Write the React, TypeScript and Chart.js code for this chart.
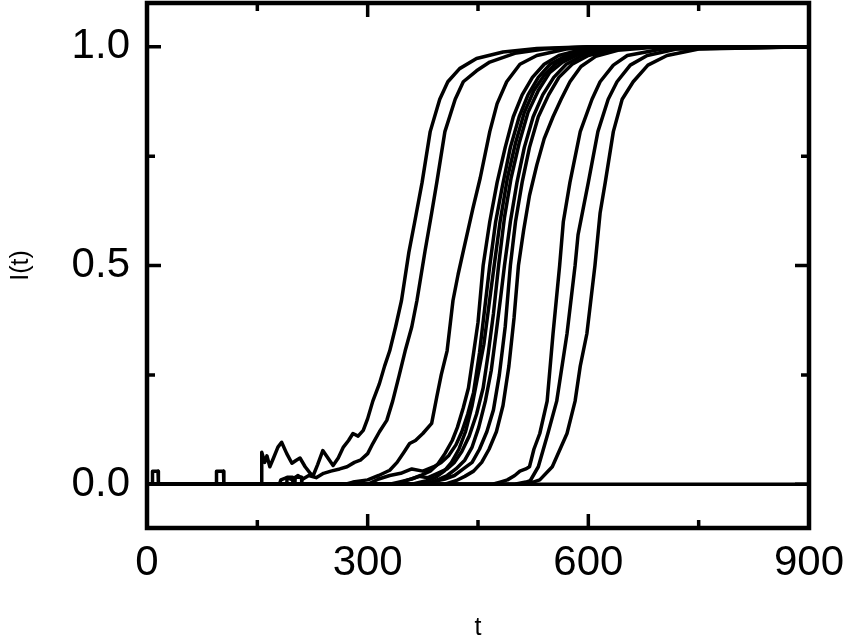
import { useEffect, useRef } from 'react';
import { Chart, registerables } from 'chart.js';

Chart.register(...registerables);

// ---- axis ticks ----
const xMajorTicks = [0, 300, 600, 900];
const xMinorTicks = [150, 450, 750];
const yMajorTicks = [0, 0.5, 1.0];
const yMinorTicks = [0.25, 0.75];

// ---- outbreaks that died out early (baseline with blips) ----
const tX = [0, 7, 7.5, 15, 15.5, 94, 94.5, 104, 104.5, 190, 190.5, 198, 198.5, 201, 201.5, 210, 210.5, 900];
const iX = [0, 0, 0.03, 0.03, 0, 0, 0.03, 0.03, 0, 0, 0.016, 0.016, 0, 0, 0.016, 0.016, 0, 0];

// ---- early curves ----
const tA = [0, 155, 156, 160, 163, 167, 172, 178, 183, 190, 197, 203, 208, 215, 222, 226, 232, 239, 246, 253, 260, 267, 274, 280, 287, 294, 300, 307, 316, 323, 330, 338, 346, 356, 364, 374, 385, 398, 409, 425, 448, 484, 530, 600, 900];
const iA = [0, 0, 0.073, 0.05, 0.065, 0.04, 0.06, 0.085, 0.096, 0.07, 0.048, 0.055, 0.06, 0.04, 0.025, 0.02, 0.045, 0.077, 0.06, 0.043, 0.06, 0.085, 0.1, 0.116, 0.11, 0.123, 0.15, 0.19, 0.23, 0.27, 0.305, 0.36, 0.42, 0.53, 0.6, 0.69, 0.806, 0.88, 0.92, 0.95, 0.973, 0.988, 0.996, 1, 1];

const tB = [0, 180, 182, 190, 198, 205, 212, 220, 230, 240, 250, 262, 272, 282, 290, 300, 307, 316, 326, 334, 343, 351, 360, 367, 378, 387, 394, 405, 419, 430, 448, 466, 500, 540, 600, 900];
const iB = [0, 0, 0.01, 0.015, 0.01, 0.02, 0.012, 0.02, 0.015, 0.025, 0.03, 0.035, 0.04, 0.05, 0.055, 0.07, 0.093, 0.12, 0.146, 0.19, 0.25, 0.305, 0.36, 0.42, 0.533, 0.62, 0.69, 0.806, 0.88, 0.92, 0.945, 0.965, 0.985, 0.995, 1, 1];

const tC = [0, 270, 280, 300, 315, 330, 340, 350, 357, 365, 375, 387, 394, 400, 408, 416, 423, 430, 443, 453, 466, 476, 489, 507, 530, 570, 620, 900];
const iC = [0, 0, 0.005, 0.01, 0.02, 0.032, 0.05, 0.075, 0.093, 0.1, 0.116, 0.139, 0.2, 0.25, 0.305, 0.42, 0.48, 0.533, 0.63, 0.7, 0.806, 0.87, 0.92, 0.96, 0.98, 0.995, 1, 1];

// ---- middle bundle ----
const tE1 = [0, 330, 345, 360, 372, 385, 395, 405, 415, 422, 430, 437, 444, 450, 457, 466, 476, 487, 498, 510, 524, 540, 560, 590, 640, 900];
const iE1 = [0, 0, 0.006, 0.012, 0.02, 0.03, 0.045, 0.07, 0.1, 0.13, 0.175, 0.22, 0.3, 0.37, 0.5, 0.6, 0.69, 0.77, 0.84, 0.89, 0.93, 0.96, 0.98, 0.993, 1, 1];

const tE2 = [0, 300, 315, 330, 345, 360, 375, 390, 400, 410, 420, 428, 436, 444, 452, 459, 466, 474, 483, 494, 506, 518, 532, 548, 570, 600, 650, 900];
const iE2 = [0, 0, 0.012, 0.02, 0.025, 0.035, 0.03, 0.04, 0.05, 0.065, 0.09, 0.12, 0.16, 0.21, 0.3, 0.4, 0.5, 0.6, 0.68, 0.77, 0.84, 0.89, 0.93, 0.96, 0.98, 0.993, 1, 1];

const tE3 = [0, 360, 380, 392, 404, 414, 424, 433, 442, 450, 458, 465, 472, 480, 490, 501, 513, 526, 540, 556, 578, 610, 660, 900];
const iE3 = [0, 0, 0.008, 0.015, 0.03, 0.05, 0.08, 0.12, 0.18, 0.25, 0.32, 0.41, 0.5, 0.6, 0.7, 0.78, 0.85, 0.9, 0.935, 0.962, 0.982, 0.994, 1, 1];

const tE4 = [0, 340, 355, 370, 382, 395, 408, 418, 428, 438, 448, 457, 464, 471, 478, 486, 495, 506, 518, 532, 547, 565, 588, 620, 670, 900];
const iE4 = [0, 0, 0.01, 0.018, 0.015, 0.025, 0.035, 0.05, 0.075, 0.11, 0.16, 0.22, 0.3, 0.39, 0.5, 0.61, 0.7, 0.78, 0.85, 0.9, 0.94, 0.965, 0.983, 0.995, 1, 1];

const tE5 = [0, 380, 395, 408, 420, 432, 442, 451, 460, 468, 475, 481, 486, 494, 503, 513, 525, 538, 553, 570, 592, 625, 680, 900];
const iE5 = [0, 0, 0.01, 0.02, 0.035, 0.055, 0.085, 0.13, 0.19, 0.26, 0.35, 0.43, 0.5, 0.6, 0.69, 0.77, 0.84, 0.89, 0.93, 0.96, 0.98, 0.994, 1, 1];

const tE6 = [0, 370, 390, 405, 418, 430, 442, 452, 462, 471, 479, 487, 494, 501, 510, 520, 532, 546, 560, 578, 600, 635, 690, 900];
const iE6 = [0, 0, 0.006, 0.012, 0.02, 0.035, 0.05, 0.08, 0.12, 0.17, 0.25, 0.36, 0.5, 0.6, 0.69, 0.77, 0.84, 0.89, 0.93, 0.96, 0.98, 0.994, 1, 1];

const tE7 = [0, 405, 420, 432, 444, 455, 465, 475, 484, 492, 499, 505, 512, 520, 530, 540, 552, 563, 575, 590, 610, 640, 690, 900];
const iE7 = [0, 0, 0.008, 0.018, 0.03, 0.05, 0.08, 0.12, 0.18, 0.27, 0.38, 0.5, 0.58, 0.66, 0.73, 0.79, 0.84, 0.88, 0.92, 0.955, 0.978, 0.992, 0.999, 1];

// ---- late curves ----
const tD1 = [0, 470, 480, 490, 500, 507, 515, 520, 526, 534, 544, 552, 561, 566, 575, 589, 605, 616, 634, 653, 700, 900];
const iD1 = [0, 0, 0.005, 0.01, 0.02, 0.03, 0.035, 0.04, 0.08, 0.116, 0.19, 0.344, 0.5, 0.6, 0.69, 0.806, 0.88, 0.92, 0.958, 0.98, 0.995, 1];

const tD2 = [0, 500, 515, 521, 532, 545, 557, 571, 582, 586, 593, 600, 613, 627, 639, 657, 680, 720, 900];
const iD2 = [0, 0, 0.005, 0.008, 0.04, 0.116, 0.19, 0.344, 0.5, 0.57, 0.63, 0.69, 0.806, 0.88, 0.92, 0.958, 0.98, 0.995, 1];

const tD3 = [0, 510, 525, 534, 551, 571, 582, 589, 598, 609, 616, 623, 634, 646, 661, 681, 707, 750, 900];
const iD3 = [0, 0, 0.005, 0.01, 0.04, 0.116, 0.19, 0.27, 0.344, 0.5, 0.62, 0.69, 0.806, 0.88, 0.92, 0.958, 0.98, 0.995, 1];

const seriesList: [number[], number[]][] = [
  [tX, iX],
  [tA, iA], [tB, iB], [tC, iC],
  [tE1, iE1], [tE2, iE2], [tE3, iE3], [tE4, iE4], [tE5, iE5], [tE6, iE6], [tE7, iE7],
  [tD1, iD1], [tD2, iD2], [tD3, iD3],
];

const FONT_FAMILY = "'Liberation Sans', Arial, Helvetica, sans-serif";

const framePlugin = {
  id: 'frameTicks',
  afterDraw(chart: any) {
    const { ctx, chartArea } = chart;
    const { left, right, top, bottom } = chartArea;
    const xs = chart.scales.x;
    const ys = chart.scales.y;
    ctx.save();
    ctx.strokeStyle = '#000';
    ctx.lineCap = 'butt';
    ctx.lineWidth = 3.5;
    const major = 14;
    const minor = 8;
    const drawX = (v: number, len: number) => {
      const px = xs.getPixelForValue(v);
      ctx.beginPath();
      ctx.moveTo(px, bottom);
      ctx.lineTo(px, bottom - len);
      ctx.moveTo(px, top);
      ctx.lineTo(px, top + len);
      ctx.stroke();
    };
    const drawY = (v: number, len: number) => {
      const py = ys.getPixelForValue(v);
      ctx.beginPath();
      ctx.moveTo(left, py);
      ctx.lineTo(left + len, py);
      ctx.moveTo(right, py);
      ctx.lineTo(right - len, py);
      ctx.stroke();
    };
    xMajorTicks.forEach((v) => drawX(v, major));
    xMinorTicks.forEach((v) => drawX(v, minor));
    yMajorTicks.forEach((v) => drawY(v, major));
    yMinorTicks.forEach((v) => drawY(v, minor));
    ctx.lineWidth = 4.5;
    ctx.strokeRect(left, top, right - left, bottom - top);
    ctx.restore();
  },
};

export default function App() {
  const ref = useRef<HTMLCanvasElement>(null);

  useEffect(() => {
    if (!ref.current) return;
    const datasets = seriesList.map(([ts, is], k) => ({
      label: 'run ' + k,
      data: ts.map((t, j) => ({ x: t, y: is[j] })),
      borderColor: '#000',
      backgroundColor: '#000',
      borderWidth: 3.5,
      pointRadius: 0,
      tension: 0,
      fill: false,
      borderJoinStyle: 'round' as const,
    }));
    const chart = new Chart(ref.current, {
      type: 'line',
      data: { datasets },
      plugins: [framePlugin],
      options: {
        animation: false,
        responsive: true,
        maintainAspectRatio: false,
        parsing: false,
        layout: { padding: { top: 3, right: 41, left: 0, bottom: 0 } },
        plugins: {
          legend: { display: false },
          tooltip: { enabled: false },
        },
        scales: {
          x: {
            type: 'linear',
            min: 0,
            max: 900,
            afterBuildTicks: (s: any) => {
              s.ticks = xMajorTicks.map((v) => ({ value: v }));
            },
            afterFit: (s: any) => {
              s.height = 115;
              s.paddingLeft = 0;
              s.paddingRight = 0;
            },
            ticks: {
              color: '#000',
              padding: 10,
              autoSkip: false,
              maxRotation: 0,
              font: { family: FONT_FAMILY, size: 42 },
              callback: (v: any) => String(v),
            },
            grid: { display: false, drawTicks: false },
            border: { display: false },
            title: {
              display: true,
              text: 't',
              color: '#000',
              font: { family: FONT_FAMILY, size: 25 },
              padding: { top: 0, bottom: 0 },
            },
          },
          y: {
            type: 'linear',
            min: -0.1,
            max: 1.1,
            afterBuildTicks: (s: any) => {
              s.ticks = yMajorTicks.map((v) => ({ value: v }));
            },
            afterFit: (s: any) => {
              s.width = 147;
              s.paddingTop = 0;
              s.paddingBottom = 0;
            },
            ticks: {
              color: '#000',
              padding: 17,
              font: { family: FONT_FAMILY, size: 42 },
              callback: (v: any) => Number(v).toFixed(1),
            },
            grid: { display: false, drawTicks: false },
            border: { display: false },
            title: {
              display: true,
              text: 'I(t)',
              color: '#000',
              font: { family: FONT_FAMILY, size: 25 },
              padding: { top: 6, bottom: 0 },
            },
          },
        },
      },
    });
    return () => chart.destroy();
  }, []);

  return (
    <div style={{ position: 'fixed', left: 0, top: 0, width: 850, height: 643, background: '#fff' }}>
      <canvas ref={ref} />
    </div>
  );
}
